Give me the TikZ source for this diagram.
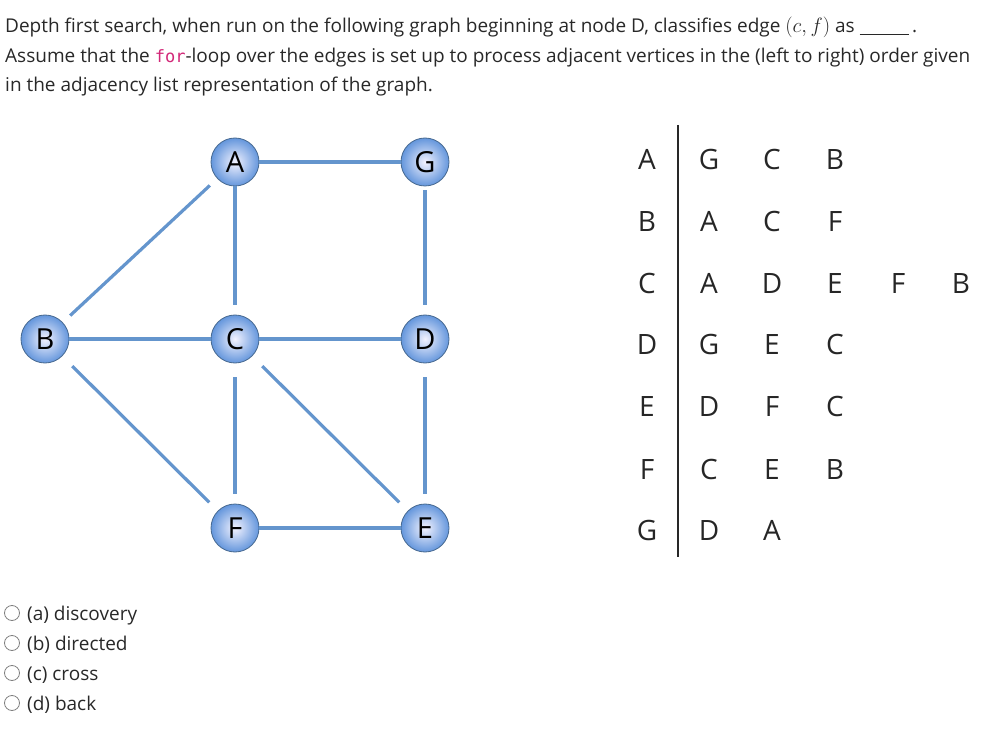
\documentclass[tikz,border=0pt]{standalone}
\usepackage{fontspec}
\setmainfont{Open Sans}
\setmonofont{DejaVu Sans Mono}
\definecolor{edgeblue}{RGB}{100,149,205}
\definecolor{nodeout}{RGB}{100,150,220}
\definecolor{txt}{RGB}{40,40,40}
\definecolor{forpink}{RGB}{210,40,120}
\begin{document}
\begin{tikzpicture}[x=1pt,y=-1pt,
  vtx/.style={circle,minimum size=48pt,inner sep=0pt,draw=edgeblue!70!black,line width=0.8pt,
    inner color=blue!5!white,outer color=nodeout,font=\fontsize{29}{29}\selectfont,text=black},
  ed/.style={draw=edgeblue,line width=3.2pt},
  lbl/.style={font=\fontsize{28}{28}\selectfont,text=black!85,anchor=base},
  para/.style={anchor=base west,font=\fontsize{19}{20}\selectfont,text=txt,inner sep=0pt},
  opt/.style={anchor=base west,font=\fontsize{19}{20}\selectfont,text=txt,inner sep=0pt},
  radio/.style={circle,draw=gray,line width=0.8pt,minimum size=15pt,inner sep=0pt}]
\useasboundingbox (0,0) rectangle (997,730);
\node[para] (t1) at (5,33) {Depth first search, when run on the following graph beginning at node D, classifies edge {\fontsize{22}{22}\selectfont$(c,f)$} as \underline{\hspace{2.6em}}\,.};
\node[para] (t2) at (5,63) {Assume that the {\ttfamily\fontsize{17}{20}\selectfont\color{forpink}for}-loop over the edges is set up to process adjacent vertices in the (left to right) order given};
\node[para] (t3) at (5,92) {in the adjacency list representation of the graph.};
% graph
\node[vtx] (A) at (235,162) {A};
\node[vtx] (G) at (425,162) {G};
\node[vtx] (B) at (45,339) {B};
\node[vtx] (C) at (235,339) {C};
\node[vtx] (D) at (425,339) {D};
\node[vtx] (F) at (235,528) {F};
\node[vtx] (E) at (425,528) {E};
\draw[ed] (A) -- (G);
\draw[ed] (B) -- (C);
\draw[ed] (C) -- (D);
\draw[ed] (F) -- (E);
\draw[ed,shorten >=10pt] (A) -- (C);
\draw[ed,shorten >=10pt,shorten <=4pt] (G) -- (D);
\draw[ed,shorten <=10pt,shorten >=10pt] (B) -- (A);
\draw[ed,shorten <=14pt,shorten >=10pt] (C) -- (F);
\draw[ed,shorten <=14pt,shorten >=10pt] (D) -- (E);
\draw[ed,shorten <=14pt,shorten >=12pt] (C) -- (E);
\draw[ed,shorten <=14pt,shorten >=12pt] (B) -- (F);
% adjacency table
\coordinate (vt) at (678,125);
\coordinate (vb) at (678,557);
\draw[line width=1.5pt,txt] (vt) -- (vb);
\foreach \r/\y/\lst in {0/160/{A,G,C,B},1/222/{B,A,C,F},2/284/{C,A,D,E,F,B},3/345/{D,G,E,C},4/407/{E,D,F,C},5/469/{F,C,E,B},6/530/{G,D,A}}{
  \foreach \l [count=\i from 0] in \lst {
    \pgfmathsetmacro{\xx}{\i==0 ? 647 : 646+\i*63}
    \node[lbl] (adj\r\i) at (\xx,\y+10) {\l};
  }
}
% options
\foreach \t [count=\i from 0] in {(a) discovery,(b) directed,(c) cross,(d) back}{
  \node[radio] (r\i) at (12,614+\i*30-1) {};
  \node[opt] (o\i) at (27,614+\i*30+6) {\t};
}
\end{tikzpicture}
\end{document}
